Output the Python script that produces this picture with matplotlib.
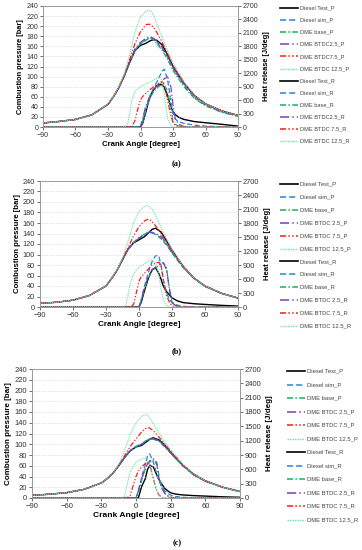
import numpy as np
import matplotlib
matplotlib.use('Agg')
from matplotlib import pyplot as plt
from matplotlib.lines import Line2D

plt.rcParams['font.family'] = ['Liberation Sans', 'DejaVu Sans']

# crank angle grids [degree]
CA_P = [-90, -75, -60, -45, -40, -30, -25, -20, -15, -10, -5, 0, 5, 8, 10, 12, 15, 20, 25, 30, 40, 50, 60, 75, 90]
CA_R = [-90, -15, -12, -10, -8, -5, -2, 0, 2, 5, 8, 10, 12, 15, 18, 20, 22, 25, 28, 30, 32, 35, 40, 50, 60, 75, 90]

# ---- (a) pressure [bar]
a_p_test = [8, 11, 15, 24, 31, 45, 60, 78, 101, 128, 152, 162, 166, 170, 172, 173, 172, 163, 143, 120, 87, 62, 46, 32, 23]
a_p_sim = [8, 11, 15, 24, 31, 45, 60, 78, 101, 129, 153, 165, 172, 176, 176, 174, 168, 156, 138, 116, 83, 58, 43, 30, 22]
a_p_base = [8, 11, 15, 24, 31, 45, 60, 78, 101, 129, 153, 166, 173, 177, 176, 173, 165, 152, 134, 112, 80, 56, 42, 29, 21]
a_p_25 = [8, 11, 15, 24, 31, 45, 60, 78, 102, 130, 155, 168, 176, 179, 178, 176, 170, 158, 140, 118, 86, 61, 45, 31, 22]
a_p_75 = [8, 11, 15, 24, 31, 45, 60, 79, 103, 134, 166, 189, 203, 204, 202, 198, 188, 168, 146, 122, 88, 62, 46, 32, 23]
a_p_125 = [8, 11, 15, 24, 31, 46, 61, 80, 105, 143, 190, 218, 230, 231, 229, 222, 205, 178, 152, 127, 90, 63, 46, 32, 23]
# ---- (a) heat release [J/deg]
a_r_test = [0, 0, 0, 0, 0, 0, 0, 0, 80, 340, 620, 740, 830, 920, 955, 940, 880, 700, 450, 340, 280, 220, 170, 120, 95, 60, 20]
a_r_sim = [0, 0, 0, 0, 0, 0, 0, 0, 150, 420, 650, 760, 870, 1000, 1150, 1250, 1290, 1050, 600, 300, 180, 120, 80, 40, 20, 5, 0]
a_r_base = [0, 0, 0, 0, 0, 0, 0, 0, 100, 380, 600, 700, 780, 860, 920, 950, 940, 800, 400, 150, 60, 20, 0, 0, 0, 0, 0]
a_r_25 = [0, 0, 0, 0, 0, 0, 0, 0, 200, 470, 650, 750, 830, 900, 960, 1000, 1080, 1120, 900, 500, 200, 60, 10, 0, 0, 0, 0]
a_r_75 = [0, 0, 0, 0, 0, 150, 450, 600, 680, 750, 820, 860, 900, 950, 1000, 1010, 950, 600, 250, 100, 40, 10, 0, 0, 0, 0, 0]
a_r_125 = [0, 0, 50, 300, 600, 800, 860, 900, 930, 960, 1000, 1020, 1050, 1080, 1100, 1050, 700, 200, 30, 0, 0, 0, 0, 0, 0, 0, 0]

# ---- (b) pressure [bar]
b_p_test = [7, 9, 13, 22, 28, 40, 54, 70, 90, 110, 122, 128, 134, 140, 144, 148, 150, 143, 126, 108, 78, 55, 40, 26, 17]
b_p_sim = [7, 9, 13, 22, 28, 40, 54, 70, 90, 110, 123, 132, 138, 142, 143, 142, 138, 130, 118, 103, 75, 54, 39, 26, 17]
b_p_base = [7, 9, 13, 22, 28, 40, 54, 70, 90, 110, 123, 132, 139, 142, 143, 142, 139, 132, 120, 104, 76, 54, 39, 26, 17]
b_p_25 = [7, 9, 13, 22, 28, 40, 54, 70, 90, 110, 122, 131, 137, 141, 142, 141, 140, 135, 122, 106, 77, 55, 40, 26, 17]
b_p_75 = [7, 9, 13, 22, 28, 40, 54, 70, 91, 113, 135, 153, 164, 167, 166, 162, 155, 140, 124, 107, 77, 55, 40, 26, 17]
b_p_125 = [7, 9, 13, 22, 28, 40, 55, 71, 93, 125, 160, 182, 192, 193, 191, 186, 175, 152, 130, 110, 78, 55, 40, 26, 17]
# ---- (b) heat release [J/deg]
b_r_test = [0, 0, 0, 0, 0, 0, 0, 0, 100, 350, 580, 700, 800, 840, 720, 600, 450, 330, 250, 200, 170, 130, 95, 70, 55, 35, 20]
b_r_sim = [0, 0, 0, 0, 0, 0, 0, 0, 150, 450, 700, 850, 980, 1100, 1100, 900, 600, 300, 150, 90, 60, 40, 15, 0, 0, 0, 0]
b_r_base = [0, 0, 0, 0, 0, 0, 0, 0, 120, 400, 600, 700, 780, 850, 900, 930, 950, 850, 300, 100, 40, 10, 0, 0, 0, 0, 0]
b_r_25 = [0, 0, 0, 0, 0, 0, 0, 0, 150, 420, 620, 720, 800, 850, 880, 920, 950, 800, 350, 120, 50, 15, 0, 0, 0, 0, 0]
b_r_75 = [0, 0, 0, 0, 0, 50, 350, 550, 650, 720, 800, 850, 900, 940, 960, 900, 600, 250, 80, 30, 10, 0, 0, 0, 0, 0, 0]
b_r_125 = [0, 0, 30, 250, 500, 700, 800, 850, 880, 930, 970, 1000, 990, 950, 700, 400, 150, 30, 0, 0, 0, 0, 0, 0, 0, 0, 0]

# ---- (c) pressure [bar]
c_p_test = [5, 7, 10, 16, 20, 28, 36, 46, 60, 75, 88, 95, 98, 103, 106, 110, 112, 108, 98, 85, 62, 44, 32, 20, 12]
c_p_sim = [5, 7, 10, 16, 20, 28, 36, 46, 60, 75, 88, 96, 100, 105, 108, 110, 111, 106, 96, 84, 61, 43, 31, 20, 12]
c_p_base = [5, 7, 10, 16, 20, 28, 36, 46, 60, 75, 88, 96, 101, 106, 108, 110, 110, 105, 95, 83, 61, 43, 31, 20, 12]
c_p_25 = [5, 7, 10, 16, 20, 28, 36, 46, 60, 75, 88, 95, 100, 104, 107, 109, 110, 106, 96, 84, 61, 43, 31, 20, 12]
c_p_75 = [5, 7, 10, 16, 20, 28, 36, 46, 61, 78, 96, 110, 123, 129, 131, 130, 125, 113, 100, 87, 63, 45, 32, 20, 12]
c_p_125 = [5, 7, 10, 16, 20, 28, 37, 47, 62, 88, 118, 140, 152, 155, 154, 149, 138, 120, 104, 90, 64, 45, 32, 20, 12]
# ---- (c) heat release [J/deg]
c_r_test = [0, 0, 0, 0, 0, 0, 0, 0, 0, 250, 400, 600, 680, 650, 480, 380, 300, 200, 140, 110, 95, 80, 65, 50, 40, 25, 15]
c_r_sim = [0, 0, 0, 0, 0, 0, 0, 0, 150, 450, 700, 880, 920, 750, 500, 350, 250, 150, 90, 60, 45, 30, 15, 5, 0, 0, 0]
c_r_base = [0, 0, 0, 0, 0, 0, 0, 0, 100, 380, 600, 700, 760, 800, 750, 450, 250, 100, 40, 20, 10, 0, 0, 0, 0, 0, 0]
c_r_25 = [0, 0, 0, 0, 0, 0, 0, 0, 150, 420, 620, 720, 780, 820, 700, 400, 220, 90, 30, 10, 0, 0, 0, 0, 0, 0, 0]
c_r_75 = [0, 0, 0, 0, 0, 50, 300, 450, 560, 650, 720, 760, 700, 400, 150, 60, 20, 0, 0, 0, 0, 0, 0, 0, 0, 0, 0]
c_r_125 = [0, 0, 0, 30, 250, 550, 680, 740, 780, 820, 840, 800, 700, 400, 150, 50, 10, 0, 0, 0, 0, 0, 0, 0, 0, 0, 0]

names_a = ['Diesel Test', 'Diesel sim', 'DME base', 'DME BTDC2.5', 'DME BTDC7.5', 'DME BTDC 12.5']
names_a_r = ['Diesel Test', 'Diesel sim', 'DME base', 'DME BTDC2.5', 'DME BTDC 7.5', 'DME BTDC 12.5']
names_bc = ['Diesel Test', 'Diesel sim', 'DME base', 'DME BTDC 2.5', 'DME BTDC 7.5', 'DME BTDC 12.5']

# line styles for the six cases
colors = ['#000000', '#2384dc', '#19b25a', '#7a3cc0', '#ff1a1a', '#6fe0a4']
dashes = [None, (4, 2), (4, 1.5, 1, 1.5), (6, 2, 1, 2), (4, 1.5, 1, 1.5, 1, 1.5), (1, 0.8)]
widths = [1.0, 0.9, 0.9, 0.9, 0.9, 0.8]

fig = plt.figure(figsize=(3.62, 5.5), dpi=100)

panels = [
    dict(rect=[43, 6, 238, 127], P=[a_p_test, a_p_sim, a_p_base, a_p_25, a_p_75, a_p_125],
         R=[a_r_test, a_r_sim, a_r_base, a_r_25, a_r_75, a_r_125], names=(names_a, names_a_r),
         leg_x=280, leg_y0=8, leg_dy=12.1, tag='(a)', tag_y=164, fs=5.0, lfs=4.1),
    dict(rect=[40, 181, 238, 307], P=[b_p_test, b_p_sim, b_p_base, b_p_25, b_p_75, b_p_125],
         R=[b_r_test, b_r_sim, b_r_base, b_r_25, b_r_75, b_r_125], names=(names_bc, names_bc),
         leg_x=280, leg_y0=184, leg_dy=12.9, tag='(b)', tag_y=351, fs=5.3, lfs=4.2),
    dict(rect=[32, 369, 240, 498], P=[c_p_test, c_p_sim, c_p_base, c_p_25, c_p_75, c_p_125],
         R=[c_r_test, c_r_sim, c_r_base, c_r_25, c_r_75, c_r_125], names=(names_bc, names_bc),
         leg_x=287, leg_y0=371, leg_dy=13.5, tag='(c)', tag_y=543, fs=5.5, lfs=4.2),
]

W, H = 362.0, 550.0
for pn in panels:
    x0, y0, x1, y1 = pn['rect']
    ax = fig.add_axes([x0 / W, 1 - y1 / H, (x1 - x0) / W, (y1 - y0) / H])
    ax2 = ax.twinx()
    fs = pn['fs']

    # heat release first (bottom), then pressure
    for i in range(6):
        l, = ax2.plot(CA_R, pn['R'][i], color=colors[i], lw=widths[i])
        if dashes[i] is not None:
            l.set_dashes(dashes[i])
    for i in range(6):
        l, = ax.plot(CA_P, pn['P'][i], color=colors[i], lw=widths[i])
        if dashes[i] is not None:
            l.set_dashes(dashes[i])

    ax.set_zorder(ax2.get_zorder() + 1)
    ax.patch.set_visible(False)

    ax.set_xlim(-90, 90)
    ax.set_ylim(0, 240)
    ax2.set_ylim(0, 2700)
    ax.set_xticks(np.arange(-90, 91, 30))
    ax.set_yticks(np.arange(0, 241, 20))
    ax2.set_yticks(np.arange(0, 2701, 300))
    ax.yaxis.grid(True, color='#c8c8c8', lw=0.5, ls=(0, (1, 1.5)))
    for a in (ax, ax2):
        a.tick_params(labelsize=fs, length=2, width=0.5, colors='#333333', pad=1.5)
        for s in a.spines.values():
            s.set_color('#9a9a9a')
            s.set_linewidth(0.6)
    ax.set_xlabel('Crank Angle [degree]', fontsize=fs + 0.6, fontweight='bold', labelpad=1.5)
    ax.set_ylabel('Combustion pressure [bar]', fontsize=fs + 0.3, fontweight='bold', labelpad=1.5)
    ax2.set_ylabel('Heat release [J/deg]', fontsize=fs + 0.3, fontweight='bold', labelpad=3)

    # legend drawn as figure artists
    labels = [n + '_P' for n in pn['names'][0]] + [n + '_R' for n in pn['names'][1]]
    for k, lab in enumerate(labels):
        i = k % 6
        yy = 1 - (pn['leg_y0'] + k * pn['leg_dy']) / H
        ln = Line2D([pn['leg_x'] / W, (pn['leg_x'] + 18) / W], [yy, yy], transform=fig.transFigure,
                    color=colors[i], lw=widths[i] + 0.2)
        if dashes[i] is not None:
            ln.set_dashes(dashes[i])
        fig.add_artist(ln)
        fig.text((pn['leg_x'] + 20) / W, yy, lab, fontsize=pn['lfs'], color='#444444', va='center', ha='left')

    fig.text(177 / W, 1 - pn['tag_y'] / H, pn['tag'], fontsize=6, fontweight='bold',
             family='Liberation Serif', ha='center', va='center')

fig.savefig('out.png', dpi=100)
